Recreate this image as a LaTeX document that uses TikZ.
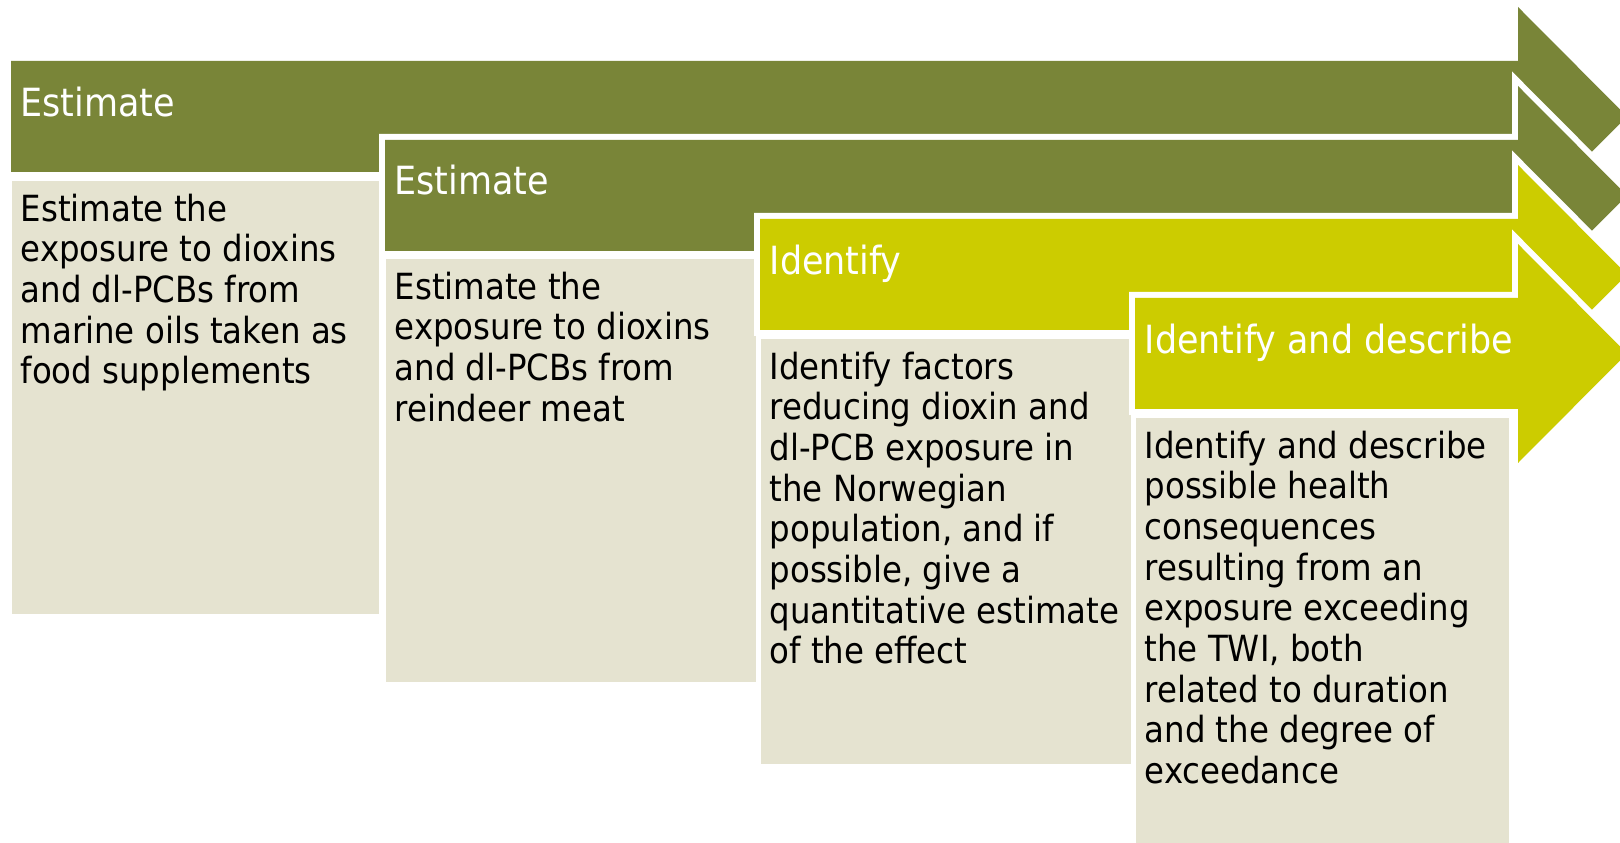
\documentclass[tikz,border=0pt]{standalone}
\usepackage{fontspec}
\setmainfont{DejaVu Sans Condensed}
\usetikzlibrary{positioning}
\definecolor{arrowolive}{RGB}{121,133,56}
\definecolor{arrowlime}{RGB}{204,204,0}
\definecolor{boxbeige}{RGB}{229,227,208}

\begin{document}
\begin{tikzpicture}[x=0.1mm,y=-0.1mm,
stagearrow/.style={fill=#1, preaction={draw=white, line width=1.2mm}},
headtext/.style={text=white, anchor=base west, inner sep=0pt, font=\fontsize{11.05}{13}\selectfont},
bodybox/.style={fill=boxbeige, anchor=north west, inner sep=0pt, minimum width=37mm, minimum height=43mm},
bodytext/.style={anchor=north west, inner sep=0pt, align=left, font=\fontsize{10.25}{11.57}\selectfont},
]
\useasboundingbox (0,0) rectangle (1620,843);
\clip (0,0) rectangle (1620,843);

% first stage
\path[stagearrow=arrowolive] (11,61) -- (1518,61) -- ++(0,-54) -- ++(109,109.5) -- ++(-109,109.5) -- ++(0,-54) -- (11,172) -- cycle;
\node[headtext] (head1) at (20,117) {Estimate};
\node[bodybox, minimum width=36.7mm, minimum height=43.3mm] (box1) at (11,180) {};
\node[bodytext, below right=1.3mm and 0.9mm of box1.north west] (txt1) {Estimate the\\exposure to dioxins\\and dl-PCBs from\\marine oils taken as\\food supplements};

% second stage
\path[stagearrow=arrowolive] (385,140) -- (1518,140) -- ++(0,-54) -- ++(109,109.5) -- ++(-109,109.5) -- ++(0,-54) -- (385,251) -- cycle;
\node[headtext] (head2) at (394,195) {Estimate};
\node[bodybox, minimum height=42.3mm] (box2) at (385,258) {};
\node[bodytext, below right=1.3mm and 0.9mm of box2.north west] (txt2) {Estimate the\\exposure to dioxins\\and dl-PCBs from\\reindeer meat};

% third stage
\path[stagearrow=arrowlime] (760,219) -- (1518,219) -- ++(0,-54) -- ++(109,109.5) -- ++(-109,109.5) -- ++(0,-54) -- (760,330) -- cycle;
\node[headtext] (head3) at (769,275) {Identify};
\node[bodybox, minimum height=42.5mm] (box3) at (760,338) {};
\node[bodytext, below right=1.3mm and 0.9mm of box3.north west] (txt3) {Identify factors\\reducing dioxin and\\dl-PCB exposure in\\the Norwegian\\population, and if\\possible, give a\\quantitative estimate\\of the effect};

% fourth stage
\path[stagearrow=arrowlime] (1135,298) -- (1518,298) -- ++(0,-54) -- ++(109,109.5) -- ++(-109,109.5) -- ++(0,-54) -- (1135,409) -- cycle;
\node[headtext] (head4) at (1144,354) {Identify and describe};
\node[bodybox, minimum width=37.3mm] (box4) at (1135,417) {};
\node[bodytext, below right=1.3mm and 0.9mm of box4.north west] (txt4) {Identify and describe\\possible health\\consequences\\resulting from an\\exposure exceeding\\the TWI, both\\related to duration\\and the degree of\\exceedance};

\end{tikzpicture}
\end{document}
